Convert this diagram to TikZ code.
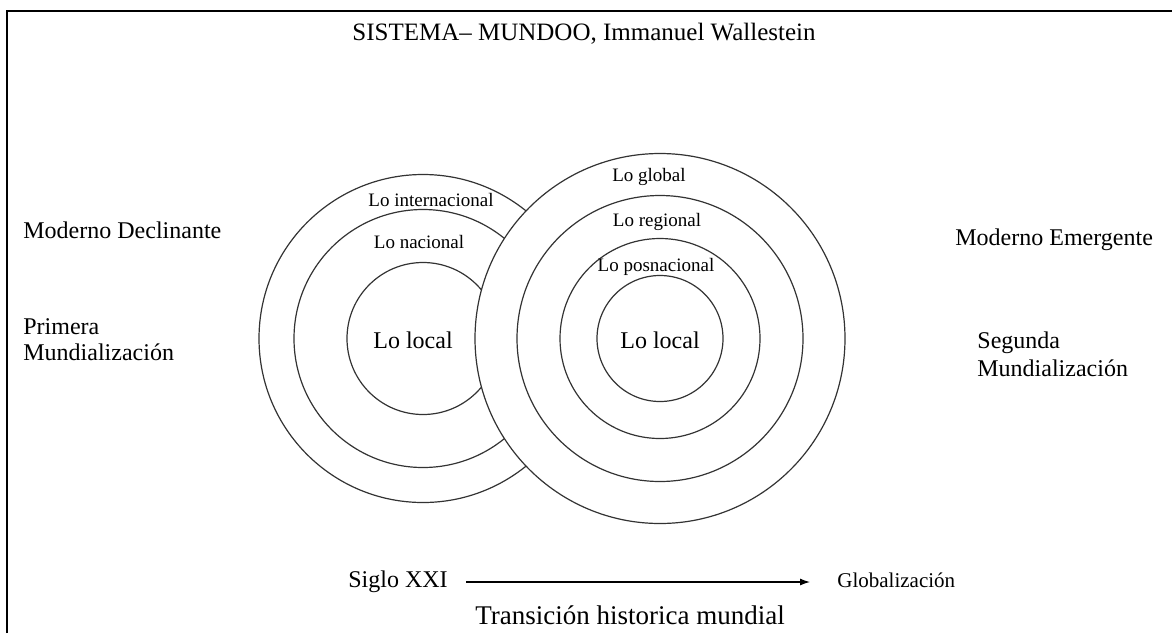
\documentclass[tikz,border=0pt]{standalone}
\usepackage{fontspec}
\setmainfont{Liberation Serif}
\usetikzlibrary{arrows.meta,positioning}
\tikzset{ring/.style={draw=black!80,circle,inner sep=0,line width=0.6pt},
    lbl/.style={inner sep=0,font=\fontsize{12}{13}\selectfont},
    smalllbl/.style={inner sep=0,font=\fontsize{9.5}{11}\selectfont},
    frameline/.style={line width=1.3pt}
}

\begin{document}
\begin{tikzpicture}[x=0.5pt,y=-0.5pt]
\useasboundingbox (0,0) rectangle (1172,633);

% frame (cut at right and bottom)
\coordinate (frTL) at (7,11);
\draw [frameline] (7,633) -- (frTL) -- (1172,11);

\node (title) [lbl,font=\fontsize{12.5}{14}\selectfont] at (584,34) {SISTEMA– MUNDOO, Immanuel Wallestein};

%% rings of the declining system
\coordinate (oldCtr) at (423,338.5);
\foreach \d/\n in {164/oldA,129/oldB,76/oldC}
    \node (\n) [ring,minimum size=\d pt] at (oldCtr) {};

%% rings of the emerging system, on top
\coordinate (newCtr) at (660,338.5);
\node (newA) [ring,fill=white,minimum size=185pt] at (newCtr) {};
\foreach \d/\n in {143/newB,100/newC,63/newD}
    \node (\n) [ring,minimum size=\d pt] at (newCtr) {};

% ring labels
\node (oldInt) [smalllbl] at (431,200) {Lo internacional};
\node (oldNac) [smalllbl] at (419,242) {Lo nacional};
\node (oldLoc) [lbl] at (413,340) {Lo local};

\node (newGlo) [smalllbl] at (649,177) {Lo global};
\node (newReg) [smalllbl] at (657,222) {Lo regional};
\node (newPos) [smalllbl] at (656,267) {Lo posnacional};
\node (newLoc) [lbl] at (660,340) {Lo local};

% side texts
\node (modDec) [lbl,anchor=west] at (23,230) {Moderno Declinante};
\node (primMun) [lbl,anchor=west,align=left] at (23,340) {Primera\\Mundialización};
\node (modEme) [lbl,anchor=west] at (955,240) {Moderno Emergente};
\node (segMun) [lbl,anchor=west,align=left,font=\fontsize{12}{14}\selectfont] at (977,354) {Segunda\\Mundialización};

% transition
\node (siglo) [lbl,anchor=west] at (348,582) {Siglo XXI};
\node (globo) [inner sep=0,anchor=west,font=\fontsize{10.5}{12}\selectfont] at (837,580) {Globalización};
\node (trans) [inner sep=0,anchor=west,font=\fontsize{13.5}{15}\selectfont] at (475,615) {Transición historica mundial};

\draw [-{Latex[length=5pt,width=3.5pt]},line width=0.6pt,shorten <=9pt,shorten >=13.5pt] (siglo.east) -- (siglo.east -| globo.west);

\end{tikzpicture}
\end{document}
